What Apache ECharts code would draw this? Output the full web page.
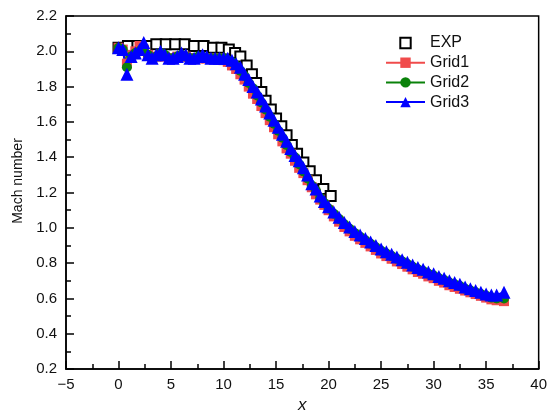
<!DOCTYPE html>
<html>
<head>
<meta charset="utf-8">
<script src="https://cdn.jsdelivr.net/npm/echarts@6/dist/echarts.min.js"></script>
<style>
html, body { margin: 0; padding: 0; background: #fff; }
#chart { width: 550px; height: 419px; }
</style>
</head>
<body>
<div id="chart"></div>
<script>
// Measured Mach number along x
const expX = [0.0, 0.9, 1.8, 2.7, 3.6, 4.5, 5.4, 6.3, 7.2, 8.1, 9.0, 9.8, 10.5, 11.1, 11.6,
  12.2, 12.7, 13.1, 13.6, 14.0, 14.5, 15.0, 15.5, 16.0, 16.5, 17.0, 17.6, 18.2, 18.8, 19.5, 20.2];
const expY = [2.02, 2.03, 2.03, 2.03, 2.04, 2.04, 2.04, 2.04, 2.03, 2.03, 2.02, 2.02, 2.01, 1.99, 1.97,
  1.92, 1.87, 1.82, 1.77, 1.72, 1.67, 1.62, 1.575, 1.525, 1.47, 1.42, 1.37, 1.32, 1.27, 1.22, 1.18];

// Simulated profiles on three grids (shared x stations)
const gridX = [0.0, 0.4, 0.8, 1.2, 1.6, 2.0, 2.4, 2.8, 3.2, 3.6, 4.0, 4.4, 4.8, 5.2, 5.6, 6.0, 6.4, 6.8,
  7.2, 7.6, 8.0, 8.4, 8.8, 9.2, 9.6, 10.0, 10.4, 10.8, 11.2, 11.6, 12.0, 12.4, 12.8, 13.2, 13.6, 14.0,
  14.4, 14.8, 15.2, 15.6, 16.0, 16.4, 16.8, 17.2, 17.6, 18.0, 18.4, 18.8, 19.2, 19.6, 20.0,
  20.5, 21.0, 21.5, 22.0, 22.5, 23.0, 23.5, 24.0, 24.5, 25.0, 25.5, 26.0, 26.5, 27.0, 27.5, 28.0,
  28.5, 29.0, 29.5, 30.0, 30.5, 31.0, 31.5, 32.0, 32.5, 33.0, 33.5, 34.0, 34.5, 35.0, 35.5, 36.0, 36.7];

const grid1Y = [2.02, 2.01, 1.93, 1.98, 2.00, 2.03, 2.01, 1.98, 1.96, 1.97, 1.98, 1.97, 1.96, 1.96, 1.97, 1.97, 1.97, 1.96,
  1.96, 1.96, 1.96, 1.96, 1.96, 1.96, 1.96, 1.95, 1.94, 1.92, 1.90, 1.87, 1.84, 1.80, 1.76, 1.73, 1.69, 1.65,
  1.61, 1.57, 1.53, 1.49, 1.45, 1.42, 1.38, 1.34, 1.31, 1.27, 1.23, 1.19, 1.16, 1.13, 1.10,
  1.065, 1.035, 1.005, 0.98, 0.955, 0.935, 0.915, 0.895, 0.875, 0.855, 0.84, 0.825, 0.81, 0.795, 0.78, 0.765,
  0.75, 0.74, 0.725, 0.715, 0.70, 0.69, 0.675, 0.665, 0.655, 0.645, 0.635, 0.625, 0.615, 0.605, 0.595, 0.59, 0.585];

const grid2Y = [2.02, 2.01, 1.91, 1.97, 1.99, 2.00, 2.02, 1.98, 1.96, 1.97, 1.99, 1.98, 1.96, 1.96, 1.97, 1.98, 1.97, 1.96,
  1.96, 1.97, 1.97, 1.96, 1.96, 1.96, 1.96, 1.96, 1.95, 1.94, 1.92, 1.89, 1.86, 1.82, 1.79, 1.75, 1.71, 1.67,
  1.63, 1.59, 1.55, 1.51, 1.47, 1.43, 1.40, 1.36, 1.32, 1.28, 1.24, 1.21, 1.17, 1.14, 1.11,
  1.08, 1.05, 1.02, 0.995, 0.97, 0.95, 0.93, 0.91, 0.89, 0.87, 0.855, 0.84, 0.825, 0.81, 0.795, 0.78,
  0.765, 0.755, 0.74, 0.73, 0.715, 0.705, 0.69, 0.68, 0.67, 0.655, 0.645, 0.635, 0.625, 0.615, 0.605, 0.60, 0.60];

const grid3Y = [2.02, 2.01, 1.87, 1.97, 1.99, 2.01, 2.05, 1.98, 1.96, 1.98, 2.00, 1.98, 1.96, 1.96, 1.97, 1.99, 1.98, 1.96,
  1.96, 1.97, 1.98, 1.97, 1.96, 1.96, 1.96, 1.96, 1.96, 1.95, 1.93, 1.91, 1.87, 1.84, 1.80, 1.77, 1.73, 1.69,
  1.65, 1.61, 1.57, 1.53, 1.49, 1.45, 1.41, 1.38, 1.34, 1.30, 1.25, 1.22, 1.18, 1.15, 1.12,
  1.09, 1.06, 1.03, 1.005, 0.98, 0.96, 0.94, 0.92, 0.90, 0.88, 0.865, 0.85, 0.835, 0.82, 0.805, 0.79,
  0.775, 0.765, 0.75, 0.74, 0.725, 0.715, 0.70, 0.69, 0.68, 0.665, 0.655, 0.645, 0.635, 0.625, 0.62, 0.62, 0.635];

const seriesNames = ['EXP', 'Grid1', 'Grid2', 'Grid3'];
const xRange = [-5, 40, 5];
const yRange = [0.2, 2.2, 0.2];

const FONT = '"Liberation Sans", Arial, sans-serif';
const pairs = (xs, ys) => xs.map((x, i) => [x, ys[i]]);

const axisCommon = {
  axisLine: { onZero: false, lineStyle: { color: '#000', width: 1.5 } },
  axisTick: { inside: true, length: 8, lineStyle: { color: '#000', width: 1.5 } },
  minorTick: { show: true, splitNumber: 2, length: 5, lineStyle: { color: '#000', width: 1.5 } },
  splitLine: { show: false },
  minorSplitLine: { show: false }
};

const chart = echarts.init(document.getElementById('chart'), null, { renderer: 'canvas' });
chart.setOption({
  animation: false,
  backgroundColor: '#fff',
  grid: { left: 66, right: 9, top: 16, bottom: 45, show: true, borderColor: '#000', borderWidth: 1.5, backgroundColor: 'transparent' },
  xAxis: Object.assign({
    type: 'value', min: xRange[0], max: xRange[1], interval: xRange[2],
    name: 'x', nameLocation: 'middle', nameGap: 24,
    nameTextStyle: { fontFamily: FONT, fontSize: 17, fontStyle: 'italic', color: '#111' },
    axisLabel: { fontFamily: FONT, fontSize: 15, color: '#111', margin: 8,
      formatter: v => (v < 0 ? '\u2212' + Math.abs(v) : String(v)) }
  }, axisCommon),
  yAxis: Object.assign({
    type: 'value', min: yRange[0], max: yRange[1], interval: yRange[2],
    axisLabel: { fontFamily: FONT, fontSize: 15, color: '#111', margin: 9,
      formatter: v => v.toFixed(1) }
  }, axisCommon),
  graphic: [{
    type: 'text', x: 18, y: 181, rotation: Math.PI / 2,
    style: { text: 'Mach number', font: '14px ' + FONT, fill: '#111', align: 'center', verticalAlign: 'middle' }
  }],
  legend: {
    orient: 'vertical', left: 385, top: 35, padding: 0, itemWidth: 39, itemHeight: 13, itemGap: 3.7,
    textStyle: { fontFamily: FONT, fontSize: 16, color: '#111' },
    data: seriesNames
  },
  series: [
    {
      name: seriesNames[0], type: 'line', data: pairs(expX, expY),
      symbol: 'emptyRect', symbolSize: 10,
      itemStyle: { color: '#000', borderWidth: 1.5 },
      lineStyle: { width: 0, opacity: 0 }
    },
    {
      name: seriesNames[1], type: 'line', data: pairs(gridX, grid1Y),
      symbol: 'rect', symbolSize: 10,
      itemStyle: { color: '#F04B4B' }, lineStyle: { color: '#F04B4B', width: 2 }
    },
    {
      name: seriesNames[2], type: 'line', data: pairs(gridX, grid2Y),
      symbol: 'circle', symbolSize: 10,
      itemStyle: { color: '#0A820A' }, lineStyle: { color: '#0A820A', width: 2 }
    },
    {
      name: seriesNames[3], type: 'line', data: pairs(gridX, grid3Y),
      symbol: 'triangle', symbolSize: 13,
      itemStyle: { color: '#0000FF' }, lineStyle: { color: '#0000FF', width: 2 }
    }
  ]
});
</script>
</body>
</html>
